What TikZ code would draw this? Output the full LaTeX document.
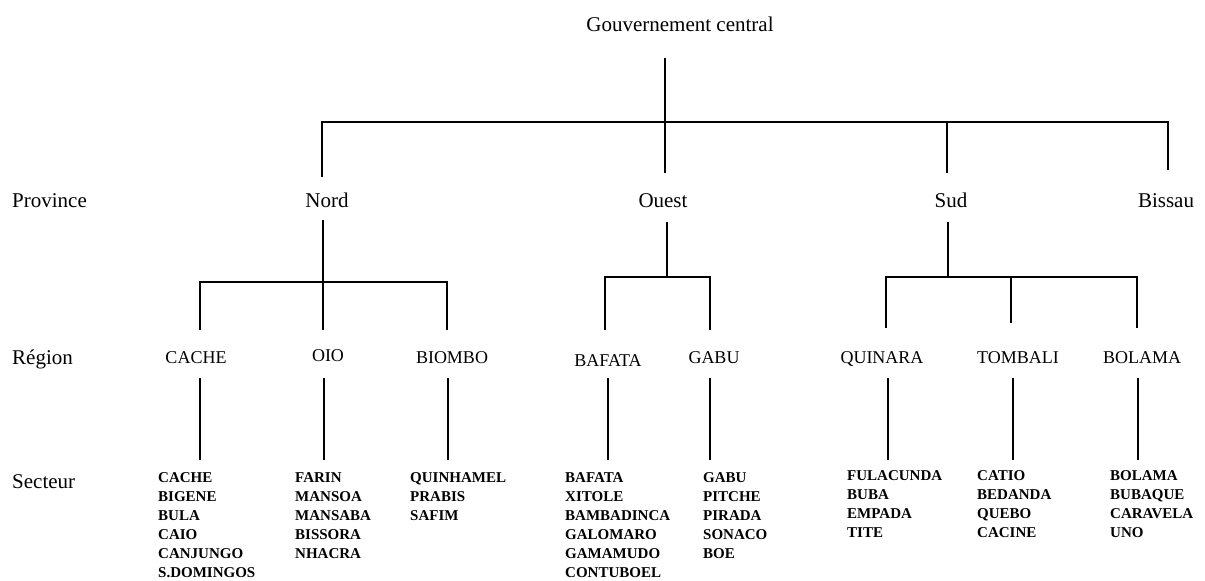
\documentclass[tikz,border=0pt]{standalone}
\usepackage{fontspec}
\setmainfont{Liberation Serif}
\begin{document}
\begin{tikzpicture}[x=1pt,y=-1pt,
  lab/.style={font=\fontsize{21}{24}\selectfont, inner sep=0pt, anchor=base west},
  prov/.style={font=\fontsize{21}{24}\selectfont, inner sep=0pt, anchor=base},
  reg/.style={font=\fontsize{18}{20}\selectfont, inner sep=0pt, anchor=base},
  sect/.style={font=\fontsize{15}{19}\selectfont\bfseries, align=left, anchor=north west, inner sep=0pt},
  link/.style={line width=1.9pt}]
\fill[white] (0,0) rectangle (1205,581);
\useasboundingbox (0,0) rectangle (1205,581);

% titles
\node[prov] (gov) at (680,31) {Gouvernement central};
\node[lab] (lprov) at (12,207) {Province};
\node[lab] (lreg) at (12,364) {Région};
\node[lab] (lsec) at (12,488) {Secteur};

% provinces
\node[prov] (nord) at (327,207) {Nord};
\node[prov] (ouest) at (663,207) {Ouest};
\node[prov] (sud) at (951,207) {Sud};
\node[prov] (bissau) at (1166,207) {Bissau};

% regions
\node[reg] (cache) at (196,363) {CACHE};
\node[reg] (oio) at (328,361) {OIO};
\node[reg] (biombo) at (452,363) {BIOMBO};
\node[reg] (bafata) at (608,366) {BAFATA};
\node[reg] (gabu) at (714,363) {GABU};
\node[reg] (quinara) at (882,363) {QUINARA};
\node[reg] (tombali) at (1018,363) {TOMBALI};
\node[reg] (bolama) at (1142,363) {BOLAMA};

% sectors
\node[sect] (scache) at (158,472) {CACHE\\BIGENE\\BULA\\CAIO\\CANJUNGO\\S.DOMINGOS};
\node[sect] (soio) at (295,472) {FARIN\\MANSOA\\MANSABA\\BISSORA\\NHACRA};
\node[sect] (sbiombo) at (410,472) {QUINHAMEL\\PRABIS\\SAFIM};
\node[sect] (sbafata) at (565,472) {BAFATA\\XITOLE\\BAMBADINCA\\GALOMARO\\GAMAMUDO\\CONTUBOEL};
\node[sect] (sgabu) at (703,472) {GABU\\PITCHE\\PIRADA\\SONACO\\BOE};
\node[sect] (squinara) at (847,470) {FULACUNDA\\BUBA\\EMPADA\\TITE};
\node[sect] (stombali) at (977,470) {CATIO\\BEDANDA\\QUEBO\\CACINE};
\node[sect] (sbolama) at (1110,470) {BOLAMA\\BUBAQUE\\CARAVELA\\UNO};

% top level connectors
\coordinate (g1) at (665,58);
\coordinate (g2) at (665,173);
\coordinate (jn) at (322,122);
\coordinate (jb) at (1168,122);
\coordinate (pn) at (322,177);
\coordinate (ps) at (947,173);
\coordinate (js) at (947,122);
\coordinate (pb) at (1168,170);
\draw[link] (g1) -- (g2);
\draw[link] (pn) -- (jn) -- (jb) -- (pb);
\draw[link] (js) -- (ps);

% Nord subtree
\coordinate (n1) at (323,220);
\coordinate (n2) at (323,330);
\coordinate (nl) at (200,282);
\coordinate (nr) at (447,282);
\coordinate (nlb) at (200,330);
\coordinate (nrb) at (447,330);
\draw[link] (n1) -- (n2);
\draw[link] (nlb) -- (nl) -- (nr) -- (nrb);

% Ouest subtree
\coordinate (o1) at (667,222);
\coordinate (o2) at (667,277);
\coordinate (ol) at (605,277);
\coordinate (or) at (710,277);
\coordinate (olb) at (605,330);
\coordinate (orb) at (710,330);
\draw[link] (o1) -- (o2);
\draw[link] (olb) -- (ol) -- (or) -- (orb);

% Sud subtree
\coordinate (s1) at (948,222);
\coordinate (s2) at (948,277);
\coordinate (sl) at (886,277);
\coordinate (sm) at (1011,277);
\coordinate (sr) at (1137,277);
\coordinate (slb) at (886,328);
\coordinate (smb) at (1011,323);
\coordinate (srb) at (1137,328);
\draw[link] (s1) -- (s2);
\draw[link] (slb) -- (sl) -- (sr) -- (srb);
\draw[link] (sm) -- (smb);

% region to sector connectors
\foreach \n/\x in {cache/200, oio/324, biombo/448, bafata/608, gabu/710, quinara/888, tombali/1013, bolama/1138}{
  \coordinate (\n t) at (\x,378);
  \coordinate (\n b) at (\x,460);
  \draw[link] (\n t) -- (\n b);
}
\end{tikzpicture}
\end{document}
